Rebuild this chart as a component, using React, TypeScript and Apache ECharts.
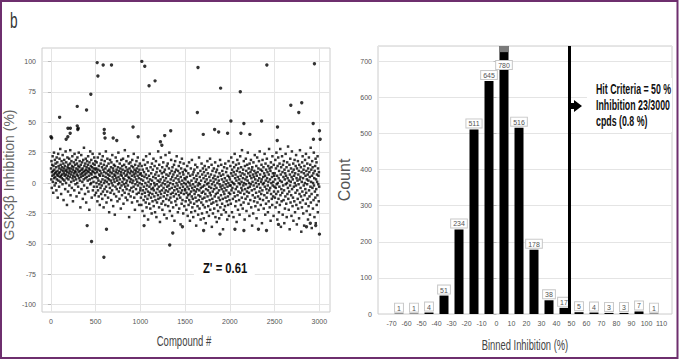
import React, { useEffect, useRef } from "react";
import * as echarts from "echarts";

// ---------------- Histogram (right panel) ----------------
const binCenters = [-65, -55, -45, -35, -25, -15, -5, 5, 15, 25, 35, 45, 55, 65, 75, 85, 95, 105];
const binCounts = [1, 1, 4, 51, 234, 511, 645, 780, 516, 178, 38, 17, 5, 4, 3, 3, 7, 1];
const histXTicks = [-70, -60, -50, -40, -30, -20, -10, 0, 10, 20, 30, 40, 50, 60, 70, 80, 90, 100, 110];
const hitLineX = 48.3;
const countAxisMax = 742;
const overflowCapStart = 725;

// ---------------- Scatter (left panel) ----------------
const scatterXTicks = [0, 500, 1000, 1500, 2000, 2500, 3000];
const scatterYTicks = [-100, -75, -50, -25, 0, 25, 50, 75, 100];

// inhibition (%) of compounds, sampled evenly through each block of 500 compounds
const block0to500 = [
  12, 3, 18, -4, 9, 15, 6, 22, 1, 10, -8, 14, 7, 25, 4, 11, -2, 19, 8, 5,
  16, 0, 9, 13, -6, 21, 3, 7, 17, 10, -12, 6, 24, 2, 14, 8, -3, 12, 20, 5,
  9, 28, 1, 15, 6, -9, 11, 18, 4, 13, 7, -1, 23, 10, 3, 16, -14, 8, 12, 19,
  2, 6, 14, -5, 10, 26, 7, 0, 17, 11, 4, -18, 9, 21, 13, 6, -7, 15, 3, 12,
  8, 20, -2, 10, 5, 16, 27, -10, 12, 7, 1, 18, 9, -4, 14, 22, 4, 11, -15, 6,
  13, 2, 17, 8, -6, 24, 10, 5, 15, -1, 9, 19, 3, 12, -11, 7, 16, 0, 21, 11,
  6, -3, 14, 9, 25, 4, -8, 13, 18, 2, 10, -20, 7, 15, 5, 23, -5, 11, 8, 17,
  1, 12, -13, 6, 19, 9, 3, 29, -2, 14, 10, 7, -9, 16, 4, 20, 11, -16, 8, 13,
  5, 18, -4, 10, 2, 15, 22, -7, 9, 12, 6, -22, 17, 3, 11, 26, -1, 8, 14, 0,
  19, 7, -12, 13, 4, 10, 24, -6, 16, 9, 1, 12, -3, 21, 5, 15, -10, 8, 18, 11,
];
const block500to1000 = [
  5, -8, 12, 0, 17, -3, 9, -15, 4, 21, -6, 11, 2, -11, 14, 7, -1, 24, -18, 6,
  10, -4, 16, 1, -9, 8, 19, -2, 13, -13, 3, 22, -7, 6, 11, -20, 15, 0, 9, -5,
  18, 2, -10, 12, 5, 26, -3, 8, -16, 14, 1, -7, 20, 4, 10, -12, 7, 16, -1, 3,
  -24, 11, 6, -4, 19, 9, -8, 2, 13, -14, 17, 0, 8, -6, 23, 5, -2, 12, -19, 10,
  3, 15, -9, 7, 1, -26, 14, 6, -3, 21, 9, -11, 4, 11, -5, 18, 2, -15, 8, 13,
  -1, 25, 5, -7, 10, 0, -13, 16, 3, -4, 12, 7, -21, 9, 19, -2, 6, -10, 14, 1,
  11, -6, 20, 4, -17, 8, -1, 15, 3, -8, 27, 10, -3, 6, -12, 13, 0, 18, -5, 7,
  2, -14, 11, 9, -2, 22, 5, -9, 16, -28, 4, 12, -6, 8, 1, 17, -11, 10, 3, -4,
  14, 6, -16, 19, 0, 9, -7, 13, 2, -3, 24, 7, -12, 11, 5, -22, 15, -1, 8, 10,
  -5, 3, 18, -9, 12, 1, -15, 6, 21, -2, 9, 14, -8, 4, -18, 11, 0, 16, 7, -6,
];
const block1000to1500 = [
  -4, 8, -12, 3, -18, 14, -1, -9, 6, -23, 11, -6, 2, 19, -14, -3, 9, -27, 5, -8,
  15, -11, 0, -16, 7, 22, -5, -20, 12, -2, 4, -13, 17, -7, -30, 10, 1, -10, 6, -17,
  -3, 24, -8, 3, -21, 13, -1, -12, 8, -5, -25, 16, 2, -9, -15, 11, -4, 5, 20, -19,
  -6, 0, -11, 14, -2, -24, 7, -14, 4, 18, -8, -28, 9, -1, -16, 12, -5, 2, -10, 26,
  -13, 6, -3, -20, 15, 1, -7, -32, 10, -12, 3, 21, -9, -2, -17, 8, -6, 13, -22, 0,
  5, -15, 17, -4, -11, 9, -26, 2, -8, 11, -1, -18, 23, -6, 4, -13, 7, -29, 14, -3,
  -10, 1, 16, -7, -19, 6, -2, 12, -14, 25, -5, -23, 8, 0, -12, 3, -9, 19, -16, 10,
  -4, -27, 5, 13, -8, -1, -20, 7, 2, -11, 15, -6, -31, 9, -3, 18, -15, 4, -9, 11,
  -18, 0, 22, -5, -13, 6, -2, -24, 10, -7, 3, 14, -10, -21, 1, 8, -4, 17, -12, -34,
  5, -8, 12, -1, -17, 20, -6, 2, -14, 9, -3, -25, 7, 16, -9, 0, -19, 4, 11, -5,
];
const block1500to2000 = [
  -6, 3, -15, -1, 10, -22, -8, 5, -12, 14, -3, -27, 1, -10, 8, -18, -5, 17, -14, 0,
  -9, -31, 6, -2, -16, 12, -7, -24, 2, -11, 19, -4, -20, 7, -13, -1, -28, 9, -6, 4,
  -17, 11, -9, -3, -23, 15, -12, 1, -7, -35, 6, -15, 3, -5, 13, -19, -2, 8, -26, -10,
  0, -14, 21, -6, -21, 5, -1, -11, 10, -30, -4, 2, -16, 16, -8, -25, 7, -13, -3, 12,
  -18, -7, 4, -29, 9, -2, -12, 14, -20, 1, -9, 6, -33, -5, 11, -15, 3, -24, -1, 18,
  -11, 8, -6, -19, 0, 13, -27, -3, 5, -14, -8, 20, -22, 2, -10, 7, -4, -17, 15, -36,
  -1, -13, 10, -7, -25, 4, -16, 1, 12, -5, -21, 6, -11, -2, 17, -28, 3, -9, 9, -15,
  -4, -32, 11, -18, 0, -8, 5, -23, 14, -12, 2, -6, -29, 8, -1, -14, 19, -20, -3, 6,
  -10, 15, -26, -5, 3, -17, 10, -2, -13, -38, 7, -7, 1, -22, 13, -9, -4, 4, -19, 16,
  -12, -1, -24, 9, -6, 2, -15, 12, -30, -3, 6, -11, -18, 0, 18, -8, -27, 5, -14, -2,
];
const block2000to2500 = [
  3, -9, 14, -2, -17, 8, 21, -6, 1, -24, 11, -4, 6, -13, 17, 0, -28, 9, -8, 13,
  -1, 24, -11, 4, -19, 7, -5, 15, -15, 2, -32, 10, -3, 19, -10, 5, -22, 12, -7, 0,
  16, -14, 3, -26, 9, -1, 22, -8, 6, -18, 13, -4, 1, -12, 27, -6, 8, -21, 4, 11,
  -2, -16, 18, 0, -9, 7, -30, 14, -5, 3, -13, 20, -1, 10, -23, 5, -7, 15, -11, 2,
  25, -4, 8, -17, 12, -8, 0, -27, 16, -3, 6, -14, 9, -1, 19, -20, 4, 11, -6, -35,
  13, 1, -10, 7, -25, 17, -2, 5, -15, 10, -5, 23, -12, 3, -19, 8, 0, -8, 14, -29,
  6, -3, 21, -16, 9, 2, -11, 12, -22, -1, 18, 4, -7, 26, -13, 7, -4, 11, -18, 1,
  -9, 15, 3, -33, 10, -6, 19, -1, -14, 5, 13, -21, 0, 8, -10, 24, -3, 6, -26, 16,
  2, -17, 11, -5, -12, 20, 4, -8, 9, -2, -24, 14, 1, -15, 7, 28, -6, 12, -20, 3,
  -4, 10, -31, 17, -9, 0, 13, -13, 5, -18, 22, -2, 8, -11, 1, -27, 15, -7, 6, -3,
];
const block2500to3000 = [
  8, -12, 3, 19, -20, -4, 12, -9, 25, -1, -16, 6, -30, 14, 0, -7, 21, -13, 4, -24,
  10, -3, 16, -18, 2, 28, -10, 7, -36, 13, -5, -15, 1, 22, -8, 9, -26, 15, -2, 5,
  -14, 18, -6, -33, 11, 3, -21, 8, -11, 24, -1, 6, -17, 13, -28, 0, 17, -9, 4, -4,
  30, -13, 10, -22, 2, -7, 15, -38, 7, -2, 20, -16, 1, 12, -10, -27, 5, 26, -5, 9,
  -19, 3, -12, 16, -31, 11, -3, 6, -15, 19, 0, -24, 8, -8, 14, -2, 23, -18, 4, -34,
  12, -6, 2, -13, 18, -21, 7, -1, 10, -29, 15, -9, 3, 27, -16, 5, -4, 13, -11, -40,
  9, 1, -20, 17, -7, 22, -14, 4, -25, 11, -2, 8, -35, 14, -10, 0, 19, -5, 6, -17,
  24, -8, 10, -23, 3, -1, 16, -13, 7, -30, 12, 2, -19, 21, -6, 9, -11, 5, -26, 15,
  -3, 29, -16, 1, 11, -9, -37, 6, 18, -4, 13, -21, 0, 8, -14, 25, -2, 4, -28, 10,
  -7, 14, -12, 20, -33, 3, -5, 17, -18, 7, 1, -10, 22, -24, 12, -1, 6, -15, 9, -3,
];
const blockStarts = [0, 500, 1000, 1500, 2000, 2500];
const blocks = [block0to500, block500to1000, block1000to1500, block1500to2000, block2000to2500, block2500to3000];

// individually readable outlying compounds: [compound #, inhibition %]
const outlierPoints: [number, number][] = [
  [0, 38], [97, 54], [294, 63], [294, 47], [300, 44], [398, 60], [446, 73], [517, 99], [525, 88],
  [584, 97], [677, 97], [1016, 100], [1049, 96], [1097, 80], [1164, 84], [1644, 95], [1637, 58],
  [1897, 78], [2117, 75], [2414, 97], [2355, 51], [2012, 51], [2157, 49], [2682, 64], [2771, 58],
  [2804, 66], [2946, 98], [2932, 49], [3002, 43], [918, 46], [1339, 43], [1703, 40], [1830, 44],
  [1875, 42], [1975, 41], [2533, 46], [1272, 39], [596, 44], [596, 41], [605, 37], [696, 37],
  [736, 35], [217, 45], [189, 38], [2124, 41], [2224, 40], [2530, 35], [2935, 36], [3010, 36],
  [8, 37], [190, 45], [170, 36], [215, 41], [305, 45], [975, 38], [1224, 34], [1240, 31],
  [454, -48], [592, -61], [1328, -51], [1362, -41], [3002, -42], [405, -35], [621, -38],
  [1470, -36], [1890, -42], [1041, -35], [1707, -39], [2057, -38], [2157, -39], [2320, -38],
  [2410, -39], [2544, -34], [2857, -36], [2900, -33], [2960, -35],
];

const SANS = '"Liberation Sans", Arial, "DejaVu Sans", sans-serif';

export default function App() {
  const ref = useRef<HTMLDivElement>(null);

  useEffect(() => {
    if (!ref.current) return;
    const chart = echarts.init(ref.current, undefined, { renderer: "svg" });

    const cloud: [number, number][] = [];
    blocks.forEach((b, bi) => {
      const step = 500 / b.length;
      b.forEach((v, i) => cloud.push([blockStarts[bi] + Math.round((i + 0.5) * step), v]));
    });

    const barData = binCenters.map((c, i) => {
      const v = binCounts[i];
      if (v > countAxisMax) {
        return { value: [c, v], label: { position: "insideTop", distance: 15 } };
      }
      return { value: [c, v] };
    });
    const overflowBins = binCenters.filter((_, i) => binCounts[i] > countAxisMax);

    const tickLabel = { fontSize: 7, color: "#555555", fontFamily: SANS, formatter: (v: number) => String(v) };
    const gridLine = { show: true, lineStyle: { color: "#e4e4e4", width: 1 } };

    chart.setOption({
      animation: false,
      backgroundColor: "#ffffff",
      grid: [
        { left: 42, top: 48, width: 288, height: 264, show: true, borderColor: "#cccccc", borderWidth: 1 },
        { left: 378, top: 46, width: 294, height: 268, show: true, borderColor: "#cccccc", borderWidth: 1 },
      ],
      xAxis: [
        {
          gridIndex: 0, type: "value", min: -100, max: 3120,
          axisLine: { show: false },
          axisTick: { show: false, customValues: scatterXTicks },
          axisLabel: { ...tickLabel, customValues: scatterXTicks, margin: 6 },
          splitLine: gridLine,
        },
        {
          gridIndex: 1, type: "value", min: -79, max: 117,
          axisLine: { show: false },
          axisTick: { show: false, customValues: histXTicks },
          axisLabel: { ...tickLabel, customValues: histXTicks, margin: 6 },
          splitLine: { show: false },
        },
      ],
      yAxis: [
        {
          gridIndex: 0, type: "value", min: -106, max: 111,
          axisLine: { show: false },
          axisTick: { show: true, length: 3, customValues: scatterYTicks, lineStyle: { color: "#bbbbbb" } },
          axisLabel: { ...tickLabel, customValues: scatterYTicks, margin: 6 },
          splitLine: gridLine,
          name: "GSK3β Inhibition (%)", nameLocation: "middle", nameGap: 26,
          nameTextStyle: { fontFamily: SANS, fontSize: 14, color: "#666", padding: [0, 0, 0, 10] },
        },
        {
          gridIndex: 1, type: "value", min: 0, max: countAxisMax, interval: 100,
          axisLine: { show: false },
          axisTick: { show: true, length: 3, lineStyle: { color: "#bbbbbb" } },
          axisLabel: { ...tickLabel, margin: 6, showMaxLabel: false },
          splitLine: gridLine,
          name: "Count", nameLocation: "middle", nameGap: 26,
          nameTextStyle: { fontFamily: SANS, fontSize: 16, color: "#555" },
        },
      ],
      series: [
        {
          type: "scatter", xAxisIndex: 0, yAxisIndex: 0, data: cloud,
          symbol: "rect", symbolSize: 2.5, itemStyle: { color: "#000" }, silent: true,
        },
        {
          type: "scatter", xAxisIndex: 0, yAxisIndex: 0, data: outlierPoints,
          symbol: "circle", symbolSize: 3.4, itemStyle: { color: "#000" }, silent: true,
        },
        {
          type: "bar", xAxisIndex: 1, yAxisIndex: 1, data: barData, barWidth: 9,
          itemStyle: { color: "#000" }, z: 2,
          label: {
            show: true, position: "top", distance: 2, fontSize: 7, color: "#555", fontFamily: SANS,
            backgroundColor: "#fff", borderColor: "#c8c8c8", borderWidth: 1, padding: [1, 2, 0, 2],
            formatter: (p: any) => String(p.value[1]),
          },
          markLine: {
            silent: true, symbol: "none", label: { show: false },
            lineStyle: { color: "#000", width: 3, type: "solid" },
            data: [{ xAxis: hitLineX }],
          },
        },
        {
          // grey cap marking bars that run past the top of the count axis
          type: "custom", xAxisIndex: 1, yAxisIndex: 1, data: overflowBins.map((c) => [c]), z: 4, silent: true,
          renderItem: (params: any, api: any) => {
            const c = api.value(0);
            const top = api.coord([c, countAxisMax]);
            const bottom = api.coord([c, overflowCapStart]);
            return {
              type: "rect",
              shape: { x: top[0] - 4.5, y: top[1], width: 9, height: bottom[1] - top[1] },
              style: { fill: "#7a7a7a" },
            };
          },
        },
      ],
      graphic: [
        {
          type: "rect", shape: { x: 1, y: 1, width: 676.5, height: 357 }, silent: true,
          style: { fill: "none", stroke: "#6e2f6e", lineWidth: 2 }, z: 100,
        },
        {
          type: "text", x: 10, y: 9, scaleX: 0.62, silent: true,
          style: { text: "b", font: `22px ${SANS}`, fill: "#333" },
        },
        {
          type: "text", x: 184, y: 341, scaleX: 0.68, silent: true,
          style: { text: "Compound #", font: `14px ${SANS}`, fill: "#444", align: "center", verticalAlign: "middle" },
        },
        {
          type: "text", x: 525, y: 345, scaleX: 0.67, silent: true,
          style: { text: "Binned Inhibition (%)", font: `14px ${SANS}`, fill: "#444", align: "center", verticalAlign: "middle" },
        },
        {
          type: "text", x: 194, y: 256, scaleX: 0.75, silent: true, z: 50,
          style: {
            text: "Z' = 0.61", font: `bold 15px ${SANS}`, fill: "#111",
            backgroundColor: "#fff", padding: [4, 10, 4, 12],
          },
        },
        {
          type: "rect", shape: { x: 587, y: 78, width: 85, height: 54 }, silent: true, z: 49,
          style: { fill: "#fff" },
        },
        {
          type: "text", x: 596, y: 81, scaleX: 0.63, silent: true, z: 50,
          style: {
            text: "Hit Criteria = 50 %\nInhibition 23/3000\ncpds (0.8 %)",
            font: `bold 14px ${SANS}`, lineHeight: 16, fill: "#111",
          },
        },
        {
          type: "polygon", silent: true, z: 50,
          shape: { points: [[569, 103], [574, 103], [574, 100], [582, 106], [574, 112], [574, 109], [569, 109]] },
          style: { fill: "#000" },
        },
      ],
    });

    return () => chart.dispose();
  }, []);

  return (
    <div
      ref={ref}
      style={{ position: "fixed", left: 0, top: 0, width: 680, height: 360, background: "#fff" }}
    />
  );
}
